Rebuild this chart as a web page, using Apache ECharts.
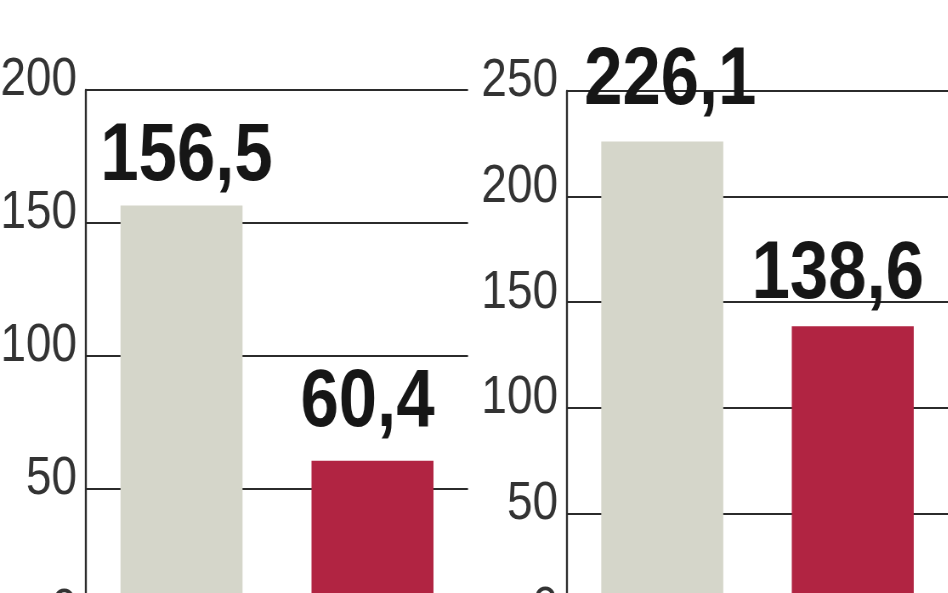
<!DOCTYPE html>
<html>
<head>
<meta charset="utf-8">
<script src="https://cdn.jsdelivr.net/npm/echarts@6/dist/echarts.min.js"></script>
<style>
html,body{margin:0;padding:0;background:#fff;overflow:hidden;width:948px;height:593px}
#c{width:1115.3px;height:593px;transform:scaleX(0.85);transform-origin:0 0}
</style>
</head>
<body>
<div id="c"></div>
<script>
const categories = ['A', 'B'];
const leftValues = [156.5, 60.4];
const rightValues = [226.1, 138.6];
const leftTicks = { min: 0, max: 200, interval: 50 };
const rightTicks = { min: 0, max: 250, interval: 50 };

// condensed look: the whole chart is drawn in a wider space and squeezed horizontally
const SX = 0.85;
const px = v => v / SX;

const barColors = ['#d5d6ca', '#b12442'];
const labelShift = [[5, -7], [-5, -16], [8, -19], [-15, -10]];
const FONT = "'Liberation Sans', Arial, sans-serif";
const lineColor = '#2b2b2b';

function yAxis(idx, t) {
  return {
    type: 'value', gridIndex: idx, min: t.min, max: t.max, interval: t.interval,
    axisLine: { show: true, lineStyle: { color: lineColor, width: px(2) } },
    axisTick: { show: false },
    splitLine: { show: true, lineStyle: { color: lineColor, width: 2 } },
    axisLabel: {
      fontFamily: FONT, fontSize: 54, color: '#333', margin: px(9),
      verticalAlign: 'bottom', lineHeight: 19
    }
  };
}
function xAxis(idx) {
  return {
    type: 'category', gridIndex: idx, data: categories,
    axisLine: { show: false }, axisTick: { show: false }, axisLabel: { show: false }
  };
}
function seriesFor(idx, values, shiftBase) {
  return {
    type: 'bar', xAxisIndex: idx, yAxisIndex: idx, barWidth: px(122),
    data: values.map((v, i) => ({
      value: v,
      itemStyle: { color: barColors[i] },
      label: { offset: [px(labelShift[shiftBase + i][0]), labelShift[shiftBase + i][1]] }
    })),
    label: {
      show: true, position: 'top', distance: 0,
      fontFamily: FONT, fontSize: 81, fontWeight: 'bold', color: '#161616',
      lineHeight: 81,
      formatter: p => p.value.toFixed(1).replace('.', ',')
    }
  };
}

const chart = echarts.init(document.getElementById('c'));
chart.setOption({
  animation: false,
  grid: [
    { left: px(86), top: 90, width: px(382), height: 531, containLabel: false, outerBoundsMode: 'none' },
    { left: px(567), top: 91, width: px(381), height: 528, containLabel: false, outerBoundsMode: 'none' }
  ],
  xAxis: [xAxis(0), xAxis(1)],
  yAxis: [yAxis(0, leftTicks), yAxis(1, rightTicks)],
  series: [seriesFor(0, leftValues, 0), seriesFor(1, rightValues, 2)]
});
</script>
</body>
</html>
